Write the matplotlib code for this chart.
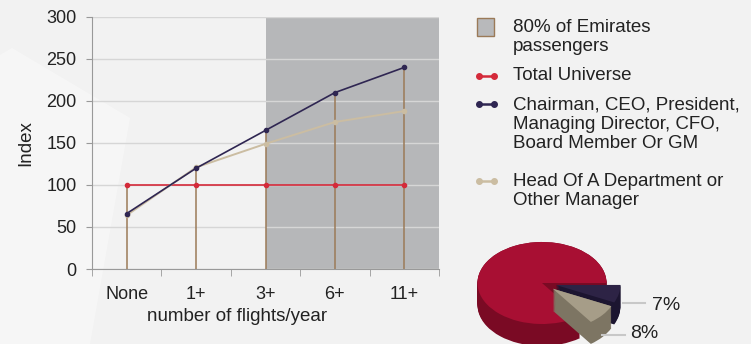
import numpy as np
import matplotlib.pyplot as plt
from matplotlib.patches import Wedge, Rectangle, Polygon
from matplotlib.lines import Line2D

plt.rcParams['font.family'] = ['Liberation Sans', 'DejaVu Sans']

# data
categories = ['None', '1+', '3+', '6+', '11+']
total_universe = [100, 100, 100, 100, 100]
chairman = [66, 120, 165, 210, 240]
head_of_dept = [64, 121, 149, 175, 188]
shade_from = '3+'
legend_labels = ['80% of Emirates\npassengers', 'Total Universe',
                 'Chairman, CEO, President,\nManaging Director, CFO,\nBoard Member Or GM',
                 'Head Of A Department or\nOther Manager']
pie_shares = [85, 7, 8]   # rest, chairman group, head of dept
pie_labels = ['', '7%', '8%']

W, H = 751, 344
bg = '#f2f2f2'
red = '#d42a3a'
navy = '#2f2652'
beige = '#cbbda2'
brown = '#9b7a58'
shade = '#b6b7b9'
txt = '#222222'


def fx(px):
    return px / W


def fy(py):
    return 1 - py / H


fig = plt.figure(figsize=(W / 100, H / 100), dpi=100, facecolor=bg)

# faint background shape
fig.patches.append(Polygon([(fx(0), fy(55)), (fx(12), fy(48)), (fx(130), fy(118)),
                            (fx(90), fy(344)), (fx(0), fy(344))],
                           closed=True, transform=fig.transFigure,
                           facecolor='white', alpha=0.35, lw=0, zorder=-1))

ax = fig.add_axes([fx(92), fy(269), fx(439) - fx(92), fy(17) - fy(269)])
ax.set_facecolor('none')
x = np.arange(len(categories))

ax.axvspan(categories.index(shade_from), len(categories) - 0.5, color=shade, lw=0, zorder=0.2)
ax.yaxis.grid(True, color='#d6d6d6', lw=1, zorder=0.5)
ax.set_axisbelow(True)

tops = np.max([total_universe, chairman, head_of_dept], axis=0)
ax.vlines(x, 0, tops, color=brown, lw=1.1, zorder=2)
ax.plot(x, total_universe, color=red, lw=1.2, marker='o', ms=3, zorder=3)
ax.plot(x, head_of_dept, color=beige, lw=1.4, marker='o', ms=3, zorder=4)
ax.plot(x, chairman, color=navy, lw=1.2, marker='o', ms=3, zorder=5)

ax.set_xlim(-0.5, len(categories) - 0.5)
ax.set_ylim(0, 300)
ax.set_yticks(range(0, 301, 50))
ax.set_xticks(x)
ax.set_xticklabels(categories)
ax.set_xticks(np.arange(-0.5, len(categories), 1), minor=True)
ax.tick_params(axis='x', which='major', length=0, pad=12, labelsize=13, labelcolor=txt)
ax.tick_params(axis='x', which='minor', length=5, color='#999999')
ax.tick_params(axis='y', length=4, color='#999999', pad=7, labelsize=13, labelcolor=txt)
for s in ['top', 'right']:
    ax.spines[s].set_visible(False)
for s in ['left', 'bottom']:
    ax.spines[s].set_color('#999999')
ax.set_ylabel('Index', fontsize=13.5, color=txt, labelpad=9)
ax.set_xlabel('number of flights/year', fontsize=13.5, color=txt)
ax.xaxis.set_label_coords(0.418, -0.155)

# legend drawn by hand so markers sit on the first line
tx = fx(513)
fig.patches.append(Rectangle((fx(477), fy(36)), fx(494) - fx(477), fy(18) - fy(36),
                             transform=fig.transFigure, facecolor='#b8b9bb',
                             edgecolor=brown, lw=1))
for col, yy in [(red, 76), (navy, 104), (beige, 181)]:
    fig.lines.append(Line2D([fx(479), fx(494)], [fy(yy), fy(yy)], transform=fig.transFigure,
                            color=col, lw=1.8, marker='o', ms=4))
for lab, yy in zip(legend_labels, [18.5, 67.5, 96.5, 172.5]):
    fig.text(tx, fy(yy), lab, ha='left', va='top', fontsize=13.5, color=txt, linespacing=1.16)

# pseudo 3d pie, squashed by the axes box
pax = fig.add_axes([fx(460), fy(344), fx(750) - fx(460), fy(232) - fy(344)])
pax.set_facecolor('none')
pax.axis('off')
cx_px, cy_px, rx, ry = 542, 283, 64.5, 41
pax.set_xlim(-(cx_px - 460) / rx, (750 - cx_px) / rx)
pax.set_ylim(-(344 - cy_px) / ry, (cy_px - 232) / ry)
depth = 22 / ry
tops_c = ['#a80f33', '#2d2345', '#a69d88']
sides_c = ['#7a0a24', '#1c1530', '#7d7563']
explode = [0, 0.22, 0.22]
total = sum(pie_shares)
# red runs ccw from 0 deg, the two small slices follow clockwise below it
spans = [(0, 360 * pie_shares[0] / total),
         (-360 * pie_shares[1] / total, 0),
         (-360 * (pie_shares[1] + pie_shares[2]) / total, -360 * pie_shares[1] / total)]
for i in range(len(pie_shares)):
    t1, t2 = spans[i]
    mid = np.deg2rad((t1 + t2) / 2)
    ox, oy = explode[i] * np.cos(mid), explode[i] * np.sin(mid)
    for d in np.linspace(depth, 0, 25):
        pax.add_patch(Wedge((ox, oy - d), 1, t1, t2, facecolor=sides_c[i], lw=0))
    pax.add_patch(Wedge((ox, oy), 1, t1, t2, facecolor=tops_c[i], lw=0))

# pie labels with leader lines
fig.lines.append(Line2D([fx(623), fx(645)], [fy(303), fy(303)], transform=fig.transFigure,
                        color='#c8c8c8', lw=1.5))
fig.lines.append(Line2D([fx(602), fx(625)], [fy(335), fy(335)], transform=fig.transFigure,
                        color='#c8c8c8', lw=1.5))
fig.text(fx(652), fy(305), pie_labels[1], ha='left', va='center', fontsize=14, color=txt)
fig.text(fx(630), fy(334), pie_labels[2], ha='left', va='center', fontsize=14, color=txt)

fig.savefig('out.png', dpi=100, facecolor=bg)
